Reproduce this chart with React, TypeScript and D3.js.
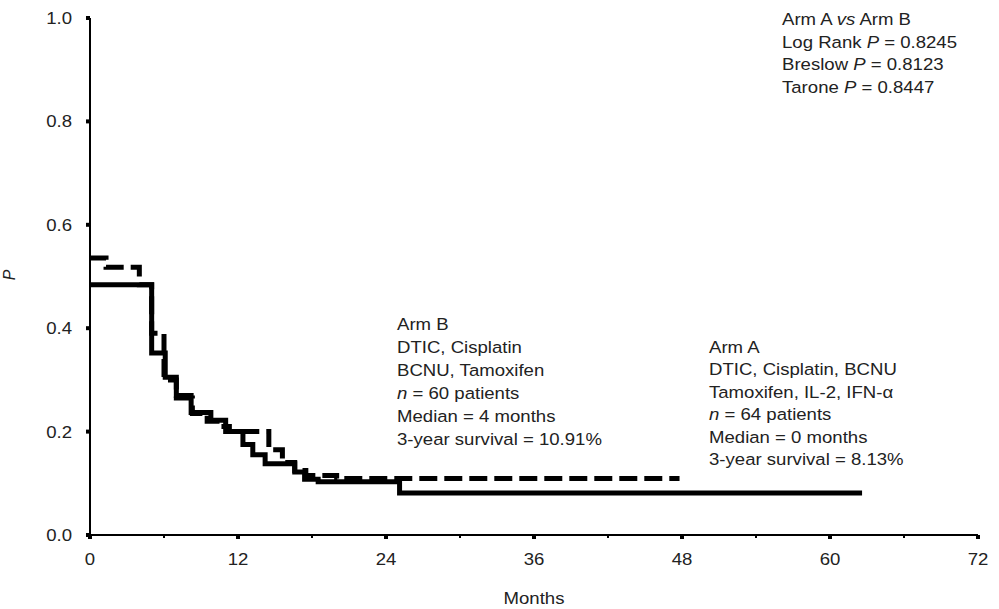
import React from "react";
import * as d3 from "d3";

// Kaplan-Meier steps (month where the level starts, survival level)
const armAMonths = [0, 5.0, 6.1, 7.0, 8.2, 9.8, 11.0, 12.4, 13.2, 14.2, 16.6, 17.4, 18.5, 25.1, 62.6];
const armASurv = [0.484, 0.352, 0.305, 0.27, 0.237, 0.222, 0.2, 0.175, 0.155, 0.138, 0.122, 0.108, 0.103, 0.0813, 0.0813];

const armBMonths = [0, 1.3, 4.0, 5.0, 6.0, 7.0, 8.3, 9.5, 10.5, 11.3, 14.5, 15.6, 16.6, 17.5, 20.0, 47.8];
const armBSurv = [0.536, 0.518, 0.484, 0.39, 0.3, 0.265, 0.235, 0.22, 0.21, 0.2, 0.165, 0.14, 0.125, 0.115, 0.1091, 0.1091];

const xTicks = [0, 12, 24, 36, 48, 60, 72];
const xMinorTicks = [6, 18, 30, 42, 54, 66];
const yTicks = [0, 0.2, 0.4, 0.6, 0.8, 1.0];

const W = 999;
const H = 609;
const FONT = "'Liberation Sans', Arial, sans-serif";
const SX = 1.14; // the source figure is stretched a little sideways

function T({ x, y, anchor = "start", children }: any) {
    return (
        <text transform={`translate(${x},${y}) scale(${SX},1)`} textAnchor={anchor}
            fontFamily={FONT} fontSize={16.3} fill="#222">
            {children}
        </text>
    );
}

export default function App() {
    const x = d3.scaleLinear().domain([0, 72]).range([90, 978]);
    const y = d3.scaleLinear().domain([0, 1]).range([535, 18]);

    const line = d3.line<[number, number]>()
        .x(d => x(d[0]))
        .y(d => y(d[1]))
        .curve(d3.curveStepAfter);

    const ptsA = armAMonths.map((m, i) => [m, armASurv[i]] as [number, number]);
    const ptsB = armBMonths.map((m, i) => [m, armBSurv[i]] as [number, number]);

    const blockB = 397;
    const blockA = 709;

    return (
        <svg width={W} height={H} style={{ position: "absolute", left: 0, top: 0, background: "#fff" }}>
            {/* axes */}
            <line x1={x(0)} x2={x(0)} y1={y(1)} y2={y(0)} stroke="#000" strokeWidth={2} />
            <line x1={x(0)} x2={x(72)} y1={y(0)} y2={y(0)} stroke="#000" strokeWidth={2} />
            {yTicks.map(t => (
                <g key={"y" + t}>
                    <rect x={x(0) - 4} y={y(t) - 2} width={4} height={4} fill="#000" />
                    <T x={72} y={y(t) + 6} anchor="end">{t.toFixed(1)}</T>
                </g>
            ))}
            {xTicks.map(t => (
                <g key={"x" + t}>
                    <rect x={x(t) - 2} y={y(0)} width={4} height={4} fill="#000" />
                    <T x={x(t)} y={565} anchor="middle">{t}</T>
                </g>
            ))}
            {xMinorTicks.map(t => (
                <rect key={"m" + t} x={x(t) - 1} y={y(0)} width={2} height={3} fill="#000" />
            ))}
            <T x={534} y={604} anchor="middle">Months</T>
            <text transform={`translate(15,275) rotate(-90)`} textAnchor="middle"
                fontFamily={FONT} fontSize={16} fontStyle="italic" fill="#222">P</text>

            {/* curves */}
            <path d={line(ptsB) || ""} fill="none" stroke="#000" strokeWidth={5}
                strokeDasharray="18 7" />
            <path d={line(ptsA) || ""} fill="none" stroke="#000" strokeWidth={5} />

            {/* statistics */}
            <T x={782} y={25}>Arm A <tspan fontStyle="italic">vs</tspan> Arm B</T>
            <T x={782} y={47.5}>Log Rank <tspan fontStyle="italic">P</tspan> = 0.8245</T>
            <T x={782} y={70}>Breslow <tspan fontStyle="italic">P</tspan> = 0.8123</T>
            <T x={782} y={92.5}>Tarone <tspan fontStyle="italic">P</tspan> = 0.8447</T>

            {/* arm B block */}
            <T x={blockB} y={330}>Arm B</T>
            <T x={blockB} y={353}>DTIC, Cisplatin</T>
            <T x={blockB} y={376}>BCNU, Tamoxifen</T>
            <T x={blockB} y={399}><tspan fontStyle="italic">n</tspan> = 60 patients</T>
            <T x={blockB} y={422}>Median = 4 months</T>
            <T x={blockB} y={445}>3-year survival = 10.91%</T>

            {/* arm A block */}
            <T x={blockA} y={352.5}>Arm A</T>
            <T x={blockA} y={375}>DTIC, Cisplatin, BCNU</T>
            <T x={blockA} y={397.5}>Tamoxifen, IL-2, IFN-α</T>
            <T x={blockA} y={420}><tspan fontStyle="italic">n</tspan> = 64 patients</T>
            <T x={blockA} y={442.5}>Median = 0 months</T>
            <T x={blockA} y={465}>3-year survival = 8.13%</T>
        </svg>
    );
}
